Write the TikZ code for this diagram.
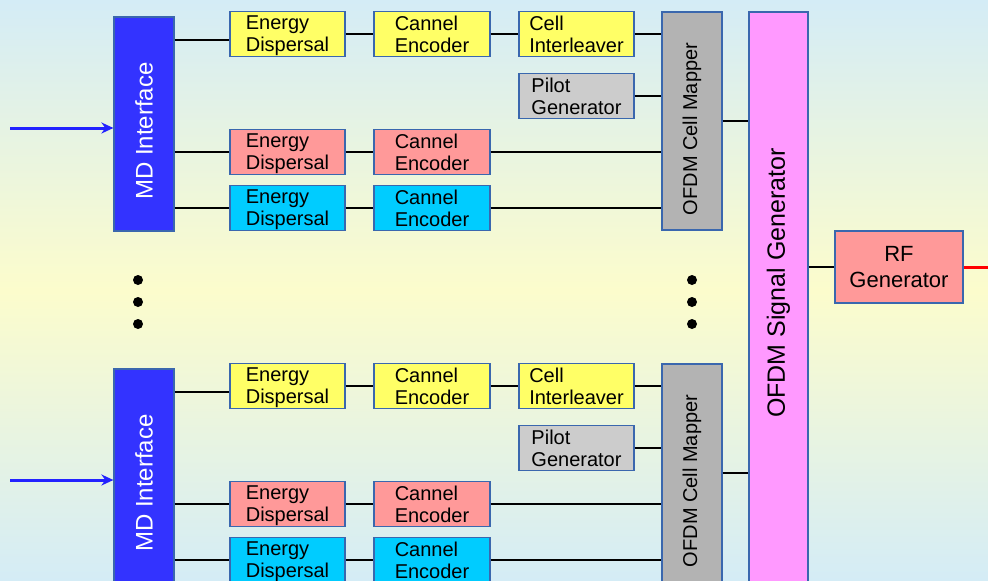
\documentclass[tikz,border=0pt]{standalone}
\usepackage{fontspec}
\setmainfont{Liberation Sans}
\usetikzlibrary{arrows.meta}

\definecolor{bgblue}{HTML}{D4ECF6}
\definecolor{bgyellow}{HTML}{FCFCCC}
\definecolor{edgeblue}{HTML}{3A67AE}
\definecolor{mdblue}{HTML}{3333FF}
\definecolor{arrowblue}{HTML}{2222FF}
\definecolor{boxyellow}{HTML}{FFFF66}
\definecolor{boxred}{HTML}{FF9999}
\definecolor{boxcyan}{HTML}{00CCFF}
\definecolor{boxgray}{HTML}{CCCCCC}
\definecolor{mapgray}{HTML}{B3B3B3}
\definecolor{sigpink}{HTML}{FF99FF}

\def\groupsep{352}

\begin{document}
\begin{tikzpicture}[x=1pt, y=-1pt, line width=2pt]
    \tikzstyle{block}=[draw=edgeblue, line width=1.2pt, inner sep=0pt]
    \tikzstyle{small block}=[block, minimum width=115pt, minimum height=45pt, align=left, text depth=0pt, font=\fontsize{20}{22}\selectfont]
    \tikzstyle{interface}=[block, fill=mdblue, minimum width=60pt, minimum height=214pt]
    \tikzstyle{mapper}=[block, fill=mapgray, minimum width=60pt, minimum height=218pt]
    \tikzstyle{dot}=[circle, fill=black, minimum size=10pt, inner sep=0pt]
    \tikzstyle{input arrow}=[draw=arrowblue, line width=3pt, -{Stealth[length=12pt, width=11pt]}]

    % Background
    \useasboundingbox (0,0) rectangle (988,581);
    \clip (0,0) rectangle (988,581);
    \shade[top color=bgblue, bottom color=bgblue, middle color=bgyellow, draw=none] (0,0) rectangle (988,581);

    % Draw the signal generator and the RF generator
    \node[block, fill=sigpink, minimum width=59pt, minimum height=588pt] (SIG) at (778.5, 306) {};
    \node[rotate=90, font=\fontsize{25}{27}\selectfont] (SIG-text) at (778.5, 283) {OFDM Signal Generator};
    \node[block, fill=boxred, minimum width=128pt, minimum height=72pt, align=center,
          font=\fontsize{22}{26}\selectfont] (RF) at (899, 267) {RF\\Generator};

    % Draw the two groups of input blocks
    \foreach \g / \dy in {1/0, 2/\groupsep} {
        \node[interface] (MD-\g) at (144, 124+\dy) {};
        \node[rotate=90, text=white, font=\fontsize{24}{26}\selectfont] (MD-\g-text) at (144, 131+\dy) {MD Interface};
        \node[mapper] (MAP-\g) at (692, 121+\dy) {};
        \node[rotate=90, font=\fontsize{20}{22}\selectfont] (MAP-\g-text) at (692, 129+\dy) {OFDM Cell Mapper};

        \foreach \row / \y / \col in {1/34/boxyellow, 2/152/boxred, 3/208/boxcyan} {
            \node[small block, fill=\col] (ED-\g-\row) at (287.5, \y+\dy) {Energy\\Dispersal};
            \node[small block, fill=\col, minimum width=116pt] (CE-\g-\row) at (432, \y+\dy) {Cannel\\Encoder};
        }

        \node[small block, fill=boxyellow] (CI-\g) at (576.5, 34+\dy) {Cell\\Interleaver};
        \node[small block, fill=boxgray] (PG-\g) at (576.5, 96+\dy) {Pilot\\Generator};

        \coordinate (IN-\g) at (10, 128+\dy);
    }

    % Draw the dots between the groups
    \foreach \y in {280,302,324} {
        \node[dot] (DL-\y) at (138, \y) {};
        \node[dot] (DR-\y) at (692, \y) {};
    }

    % Connect the blocks of every group
    \foreach \g in {1,2} {
        \draw[input arrow] (IN-\g) -- (IN-\g -| MD-\g.west);

        \path ([yshift=-6pt]ED-\g-1.west) coordinate (ED-\g-1-in);
        \draw (ED-\g-1-in -| MD-\g.east) -- (ED-\g-1-in);
        \foreach \row in {2,3}
            \draw (MD-\g.east |- ED-\g-\row.west) -- (ED-\g-\row.west);

        \foreach \row in {1,2,3}
            \draw (ED-\g-\row) -- (CE-\g-\row);

        \draw (CE-\g-1) -- (CI-\g);
        \draw (CI-\g.east) -- (CI-\g.east -| MAP-\g.west);
        \draw (PG-\g.east) -- (PG-\g.east -| MAP-\g.west);
        \foreach \row in {2,3}
            \draw (CE-\g-\row.east) -- (CE-\g-\row.east -| MAP-\g.west);

        \draw (MAP-\g.east) -- (MAP-\g.east -| SIG.west);
    }

    % Connect the signal generator with the RF generator
    \coordinate (OUT) at (988, 267);
    \draw (SIG.east |- RF.west) -- (RF.west);
    \draw[red, line width=3pt] (RF.east) -- (OUT);
\end{tikzpicture}
\end{document}
